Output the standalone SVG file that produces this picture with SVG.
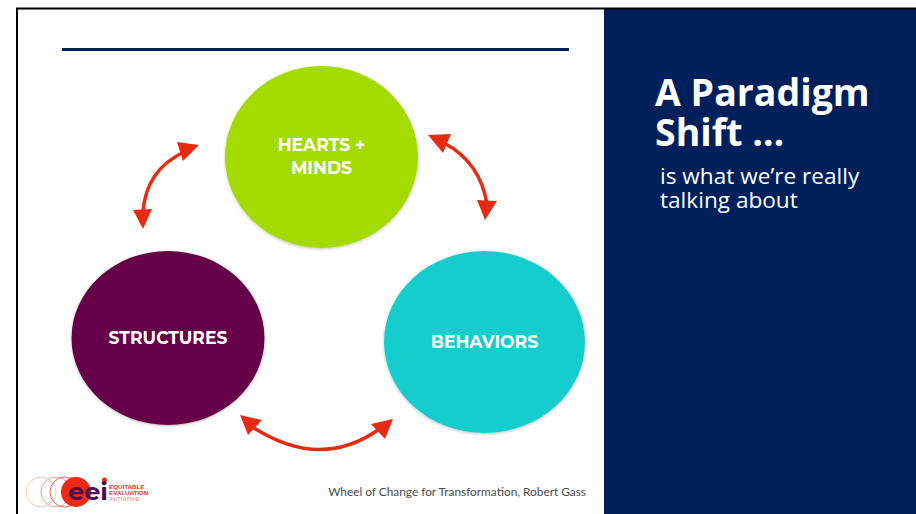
<svg xmlns="http://www.w3.org/2000/svg" width="916" height="514" viewBox="0 0 916 514">
<style>
.nl{font-family:"Montserrat","Liberation Sans",Arial,sans-serif;font-weight:700;font-size:17.200px;fill:#fff;text-anchor:middle}
.ti{font-family:"Open Sans",sans-serif;font-weight:700;font-size:37.500px;fill:#fff}
.su{font-family:"Open Sans",sans-serif;font-size:22.600px;fill:#fff}
.ar{fill:none;stroke:#e82a10;stroke-width:3.500}
.hd{fill:#e82a10}
.rg{fill:none;stroke:#ee9a90}
</style>
<defs>
<filter id="sh" x="-5%" y="-5%" width="110%" height="110%"><feDropShadow dx="0" dy="1" stdDeviation="1.500" flood-color="#000" flood-opacity="0.250"/></filter>
</defs>
<rect width="916" height="514" fill="#fff"/>
<rect x="604" y="9" width="312" height="505" fill="#00205c"/>
<path d="M17 514V8.500H916" fill="none" stroke="#000" stroke-width="2"/>
<line x1="62" y1="49.500" x2="569" y2="49.500" stroke="#00205c" stroke-width="3"/>
<g id="node-hearts">
<ellipse cx="321.500" cy="157" rx="96.500" ry="91" fill="#a3db00" filter="url(#sh)"/>
<text class="nl" x="321.500" y="151">HEARTS +</text>
<text class="nl" x="321.500" y="174">MINDS</text>
</g>
<g id="node-structures">
<ellipse cx="168" cy="338" rx="96.500" ry="87" fill="#660049" filter="url(#sh)"/>
<text class="nl" x="168" y="344">STRUCTURES</text>
</g>
<g id="node-behaviors">
<ellipse cx="484.500" cy="342" rx="100.500" ry="91" fill="#19cdcd" filter="url(#sh)"/>
<text class="nl" x="484.500" y="348">BEHAVIORS</text>
</g>
<g id="connectors">
<path class="ar" d="M444 143Q480 162 487 204"/>
<polygon class="hd" points="428,135 451,134 443,153"/>
<polygon class="hd" points="485,220 477,200 497,201"/>
<path class="ar" d="M184 152Q146 170 143 212"/>
<polygon class="hd" points="199,145 177,142 183,161"/>
<polygon class="hd" points="143,229 133,210 152,209"/>
<path class="ar" d="M254 428Q320 470 378 430"/>
<polygon class="hd" points="240,415 262,420 248,435"/>
<polygon class="hd" points="393,419 371,424 385,439"/>
</g>
<g id="panel-text">
<text class="ti" x="655" y="106">A Paradigm</text>
<text class="ti" x="655" y="146">Shift …</text>
<text class="su" x="660" y="184">is what we’re really</text>
<text class="su" x="660" y="208">talking about</text>
</g>
<g id="logo">
<circle cx="41" cy="492" r="15" class="rg" opacity="0.6"/>
<circle cx="56" cy="492" r="15" class="rg"/>
<circle cx="65" cy="492" r="15" fill="none" stroke="#e2675a"/>
<circle cx="76" cy="492" r="15" fill="#ea2a12"/>
<circle cx="104.500" cy="480" r="2.500" fill="#ea2a12"/>
<text x="68" y="500" font-family="Montserrat,'Liberation Sans',sans-serif" font-weight="700" font-size="23" fill="#4d0f4b" textLength="40" lengthAdjust="spacingAndGlyphs">eei</text>
<g font-family="'Liberation Sans',sans-serif" font-size="6.200" fill="#c8402e">
<text x="109" y="488.500" font-weight="700">EQUITABLE</text>
<text x="109" y="494.500" font-weight="700">EVALUATION</text>
<text x="109" y="500.500" fill="#d98a80">INITIATIVE</text>
</g>
</g>
<text x="586" y="496" text-anchor="end" font-family="Lato,sans-serif" font-size="11.850" fill="#4a4a4a">Wheel of Change for Transformation, Robert Gass</text>
</svg>
